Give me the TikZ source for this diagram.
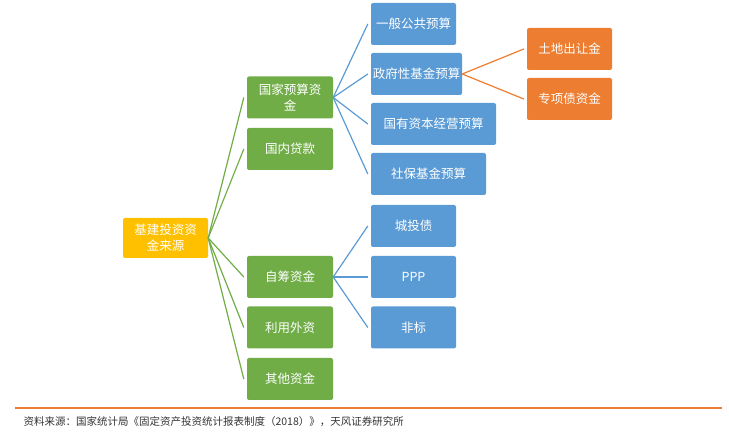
\documentclass[tikz,border=0pt]{standalone}
\usepackage{fontspec}
\setmainfont{Noto Sans CJK SC}
\usetikzlibrary{positioning}
\definecolor{gbox}{HTML}{70AD47}
\definecolor{bbox}{HTML}{5B9BD5}
\definecolor{obox}{HTML}{ED7D31}
\definecolor{ybox}{HTML}{FFC000}
\tikzset{%
  box/.style = {rectangle,rounded corners=2pt,text=white,inner sep=1pt,
        minimum height=42pt,align=center,font=\fontsize{12.5}{16}\selectfont},
  rootbox/.style = {box,fill=ybox,minimum width=85pt,minimum height=40pt},
  gnode/.style = {box,fill=gbox,minimum width=86pt},
  bnode/.style = {box,fill=bbox},
  onode/.style = {box,fill=obox,minimum width=85pt},
  glink/.style = {draw=gbox,line width=1.2pt},
  blink/.style = {draw=bbox,line width=1.2pt},
  olink/.style = {draw=orange!80!red,draw=obox,line width=1.2pt}
}
\begin{document}
\begin{tikzpicture}[x=1pt,y=-1pt]
  \useasboundingbox (0,0) rectangle (729,435);
  % root
  \node[rootbox] (root) at (165.5,238) {基建投资资\\金来源};
  % second level
  \node[gnode] (nb) at (290,97.5) {国家预算资\\金};
  \node[gnode] (gd) at (290,149) {国内贷款};
  \node[gnode] (zc) at (290,277) {自筹资金};
  \node[gnode] (wz) at (290,327.5) {利用外资};
  \node[gnode] (qt) at (290,379) {其他资金};
  % third level
  \node[bnode,minimum width=85pt] (yb) at (413.5,24) {一般公共预算};
  \node[bnode,minimum width=91pt] (zf) at (416.5,74) {政府性基金预算};
  \node[bnode,minimum width=125pt] (gy) at (433.5,124) {国有资本经营预算};
  \node[bnode,minimum width=115pt] (sb) at (428.5,174) {社保基金预算};
  \node[bnode,minimum width=85pt] (ct) at (413.5,226) {城投债};
  \node[bnode,minimum width=85pt] (ppp) at (413.5,277) {PPP};
  \node[bnode,minimum width=85pt] (fb) at (413.5,327.5) {非标};
  % fourth level
  \node[onode] (td) at (569.5,49) {土地出让金};
  \node[onode] (zx) at (569.5,99) {专项债资金};
  % links
  \foreach \n in {nb,gd,zc,wz,qt}
    \draw[glink] (root.east) -- ([xshift=-3pt]\n.west);
  \foreach \n in {yb,zf,gy,sb}
    \draw[blink] (nb.east) -- ([xshift=-3pt]\n.west);
  \foreach \n in {ct,ppp,fb}
    \draw[blink] (zc.east) -- ([xshift=-3pt]\n.west);
  \foreach \n in {td,zx}
    \draw[olink] (zf.east) -- ([xshift=-3pt]\n.west);
  % source
  \coordinate (sl) at (15,408);
  \coordinate (sr) at (722,408);
  \draw[obox,line width=1.5pt] (sl) -- (sr);
  \node[anchor=west,text=black!80,font=\fontsize{10.5}{12}\selectfont] (src) at (20,422)
    {资料来源：国家统计局《固定资产投资统计报表制度（2018）》，天风证券研究所};
\end{tikzpicture}
\end{document}
